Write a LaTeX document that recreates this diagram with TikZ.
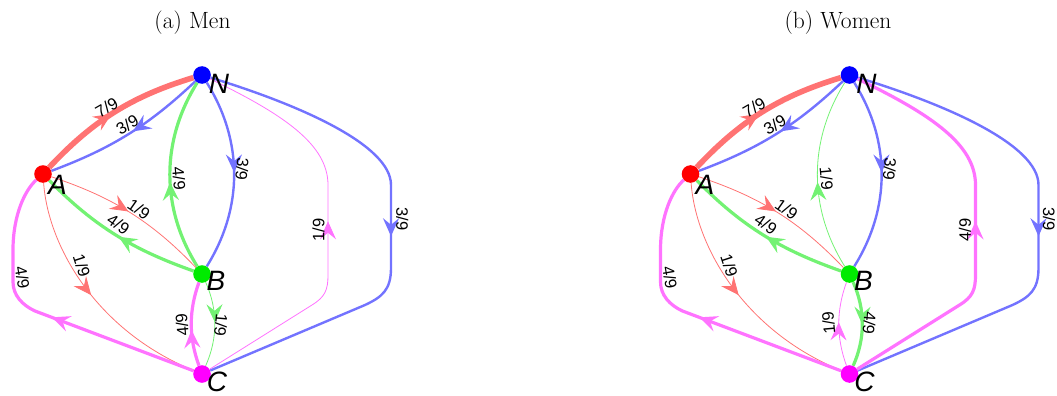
\documentclass[tikz,border=0pt]{standalone}
\usepackage{fontspec}
\newfontfamily\labfont{Liberation Sans}
\usetikzlibrary{arrows.meta,decorations.markings}
\definecolor{lred}{rgb}{1,0.45,0.45}
\definecolor{lblue}{rgb}{0.45,0.45,1}
\definecolor{lgreen}{rgb}{0.45,0.95,0.45}
\definecolor{lmag}{rgb}{1,0.45,1}
\definecolor{vgreen}{rgb}{0,0.92,0}
\definecolor{vmag}{rgb}{1,0,1}
\definecolor{vblue}{rgb}{0,0,1}
\definecolor{vred}{rgb}{1,0,0}
\pgfdeclarelayer{bg}
\pgfsetlayers{bg,main}
\tikzset{
  w1/.style={line width=0.8pt},
  w3/.style={line width=2.4pt},
  w4/.style={line width=3.2pt},
  w7/.style={line width=5.6pt},
  rd/.style={color=lred},
  bl/.style={color=lblue},
  gr/.style={color=lgreen},
  mg/.style={color=lmag},
  mid/.style={postaction={decorate,decoration={markings,
     mark=at position #1 with {\arrow{Stealth[length=18pt,width=16pt,inset=6.5pt]}}}}},
  frac/.style={font=\labfont\fontsize{16.5}{16.5}\selectfont, inner sep=0pt},
  vert/.style={circle, minimum size=17.6pt, inner sep=0pt},
  vlab/.style={font=\labfont\itshape\fontsize{28}{28}\selectfont, inner sep=0pt},
  ttl/.style={font=\fontsize{23.5}{23.5}\selectfont, anchor=base, inner sep=0pt},
}
\begin{document}
\begin{tikzpicture}[x=1pt,y=-1pt]
\useasboundingbox (0,0) rectangle (1057,396);
\node[ttl] (ta) at (192.5,28.5) {(a) Men};
\node[ttl] (tb) at (838,28.5) {(b) Women};

% ---------- panel (a): Men ----------
\node[vert,fill=vblue] (aN) at (202,75) {};
\node[vert,fill=vred] (aA) at (43,174) {};
\node[vert,fill=vgreen] (aB) at (202,274) {};
\node[vert,fill=vmag] (aC) at (202,374) {};
\node[vlab] (aNl) at (219,84) {N};
\node[vlab] (aAl) at (57.5,185) {A};
\node[vlab] (aBl) at (216,281) {B};
\node[vlab] (aCl) at (217,382) {C};
\begin{pgfonlayer}{bg}
\draw[rd,w7,mid=0.48] (aA) .. controls (93,120.6) and (132,96.2) .. (aN);
\draw[bl,w3,mid=0.47] (aN) .. controls (148.9,125.2) and (111.5,148.5) .. (aA);
\draw[bl,w3,mid=0.49] (aN) .. controls (243.3,141) and (243.3,208) .. (aB);
\draw[gr,w4,mid=0.46] (aB) .. controls (160.7,208) and (160.7,141) .. (aN);
\draw[rd,w1,mid=0.49] (aA) .. controls (112.3,197) and (151.6,221.2) .. (aB);
\draw[gr,w4,mid=0.48] (aB) .. controls (134,250) and (95,227) .. (aA);
\draw[rd,w1,mid=0.49] (aA) .. controls (48,245) and (95,330) .. (aC);
\draw[mg,w4,mid=0.48] (aC) -- (35,311) .. controls (22,305) and (13,295) .. (13,282) -- (13,250) .. controls (13,215) and (25,190) .. (aA);
\draw[gr,w1,mid=0.48] (aB) .. controls (217.9,309.6) and (217.9,338.4) .. (aC);
\draw[mg,w4,mid=0.43] (aC) .. controls (188.7,337.3) and (188.7,310.7) .. (aB);
\draw[bl,w3,mid=0.52] (aN) .. controls (300,105) and (391,145) .. (391,185) -- (391,268) .. controls (391,290) and (382,297) .. (365,305) -- (aC);
\draw[mg,w1,mid=0.51] (aC) -- (312,305) .. controls (325,297) and (328,290) .. (328,275) -- (328,185) .. controls (328,145) and (285,115) .. (aN);
\end{pgfonlayer}
\node[frac,rotate=30] (a1) at (106.7,107.3) {7/9};
\node[frac,rotate=30] (a2) at (127.3,125) {3/9};
\node[frac,rotate=-35] (a3) at (139,209) {1/9};
\node[frac,rotate=-35] (a4) at (118.3,224) {4/9};
\node[frac,rotate=-85] (a5) at (179,178.3) {4/9};
\node[frac,rotate=-95] (a6) at (242.3,169) {3/9};
\node[frac,rotate=90] (a7) at (318.5,230) {1/9};
\node[frac,rotate=-90] (a8) at (402.3,219) {3/9};
\node[frac,rotate=-80] (a9) at (22.3,277.3) {4/9};
\node[frac,rotate=-72] (a10) at (81.7,265.7) {1/9};
\node[frac,rotate=-95] (a11) at (221,325) {1/9};
\node[frac,rotate=95] (a12) at (182,325) {4/9};

% ---------- panel (b): Women ----------
\begin{scope}[xshift=647.5pt]
\node[vert,fill=vblue] (bN) at (202,75) {};
\node[vert,fill=vred] (bA) at (43,174) {};
\node[vert,fill=vgreen] (bB) at (202,274) {};
\node[vert,fill=vmag] (bC) at (202,374) {};
\node[vlab] (bNl) at (219,84) {N};
\node[vlab] (bAl) at (57.5,185) {A};
\node[vlab] (bBl) at (216,281) {B};
\node[vlab] (bCl) at (217,382) {C};
\begin{pgfonlayer}{bg}
\draw[rd,w7,mid=0.48] (bA) .. controls (93,120.6) and (132,96.2) .. (bN);
\draw[bl,w3,mid=0.47] (bN) .. controls (148.9,125.2) and (111.5,148.5) .. (bA);
\draw[bl,w3,mid=0.49] (bN) .. controls (243.3,141) and (243.3,208) .. (bB);
\draw[gr,w1,mid=0.46] (bB) .. controls (160.7,208) and (160.7,141) .. (bN);
\draw[rd,w1,mid=0.49] (bA) .. controls (112.3,197) and (151.6,221.2) .. (bB);
\draw[gr,w4,mid=0.48] (bB) .. controls (134,250) and (95,227) .. (bA);
\draw[rd,w1,mid=0.49] (bA) .. controls (48,245) and (95,330) .. (bC);
\draw[mg,w4,mid=0.48] (bC) -- (35,311) .. controls (22,305) and (13,295) .. (13,282) -- (13,250) .. controls (13,215) and (25,190) .. (bA);
\draw[gr,w4,mid=0.51] (bB) .. controls (217.9,309.6) and (217.9,338.4) .. (bC);
\draw[mg,w1,mid=0.52] (bC) .. controls (188.7,337.3) and (188.7,310.7) .. (bB);
\draw[bl,w3,mid=0.52] (bN) .. controls (300,105) and (391,145) .. (391,185) -- (391,268) .. controls (391,290) and (382,297) .. (365,305) -- (bC);
\draw[mg,w4,mid=0.51] (bC) -- (312,305) .. controls (325,297) and (328,290) .. (328,275) -- (328,185) .. controls (328,145) and (285,115) .. (bN);
\end{pgfonlayer}
\node[frac,rotate=30] (b1) at (106.7,107.3) {7/9};
\node[frac,rotate=30] (b2) at (127.3,125) {3/9};
\node[frac,rotate=-35] (b3) at (139,209) {1/9};
\node[frac,rotate=-35] (b4) at (118.3,224) {4/9};
\node[frac,rotate=-85] (b5) at (179,178.3) {1/9};
\node[frac,rotate=-95] (b6) at (242.3,169) {3/9};
\node[frac,rotate=90] (b7) at (317.5,230) {4/9};
\node[frac,rotate=-90] (b8) at (401.5,219) {3/9};
\node[frac,rotate=-80] (b9) at (22.3,277.3) {4/9};
\node[frac,rotate=-72] (b10) at (81.7,265.7) {1/9};
\node[frac,rotate=-95] (b11) at (222,323) {4/9};
\node[frac,rotate=95] (b12) at (181,323) {1/9};
\end{scope}
\end{tikzpicture}
\end{document}
